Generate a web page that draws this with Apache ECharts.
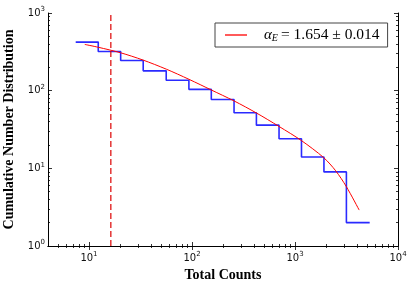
<!DOCTYPE html>
<html>
<head>
<meta charset="utf-8">
<script src="https://cdn.jsdelivr.net/npm/echarts@6/dist/echarts.min.js"></script>
<style>html,body{margin:0;padding:0;background:#fff}#c{width:415px;height:288px}</style>
</head>
<body>
<div id="c"></div>
<script>
// ---- data ----
const binEdges = [7.43, 12.3, 20.3, 33.6, 56.2, 93.3, 154, 256, 422, 700, 1156, 1910, 3155, 5310];
const cumCounts = [422, 320, 245, 180, 136, 104, 77, 52, 36, 24, 14, 9, 2];
const fitX = [9.1, 12.2, 20.2, 33.4, 56.4, 93.5, 154, 256, 422, 700, 1153, 1902, 2483, 3155, 4198];
const fitY = [394, 363, 308, 248, 189, 140, 102, 73.8, 51.6, 34.6, 22.8, 13.7, 9.3, 5.8, 2.9];
const threshold = 16.3;
const xRange = [4, 10000];
const yRange = [1, 1000];
const xMajorExp = [1, 2, 3, 4];
const yMajorExp = [0, 1, 2, 3];
const fitLabel = 'αE = 1.654 ± 0.014';

const L = Math.log10;
function minors(lo, hi) {
  const out = [];
  for (let e = Math.floor(L(lo)); e <= Math.ceil(L(hi)); e++) {
    for (let k = 2; k <= 9; k++) {
      const v = k * Math.pow(10, e);
      if (v > lo && v < hi) out.push(L(v));
    }
  }
  return out;
}
const xMin = L(xRange[0]), xMax = L(xRange[1]);
const yMin = L(yRange[0]), yMax = L(yRange[1]);

const stepData = cumCounts.map((v, i) => [L(binEdges[i]), L(v)]);
stepData.push([L(binEdges[binEdges.length - 1]), L(cumCounts[cumCounts.length - 1])]);
const fitData = fitX.map((x, i) => [L(x), L(fitY[i])]);

const labelFont = { fontFamily: 'DejaVu Sans', fontSize: 10, color: '#111',
  rich: { s: { fontFamily: 'DejaVu Sans', fontSize: 7, color: '#111', padding: [0, 0, 7, 0] } } };
const fmt = v => '10{s|' + Math.round(v) + '}';
const lineSt = { show: true, lineStyle: { color: '#000', width: 1 } };

function axis(kind, pos, major, withLabel, minV, maxV, extra) {
  const a = {
    type: 'value', position: pos, min: minV, max: maxV,
    splitLine: { show: false },
    axisLine: major ? lineSt : { show: false },
    axisTick: { show: true, inside: true, length: major ? 4 : 2,
      lineStyle: { color: '#000', width: 0.8 },
      customValues: major ? (kind === 'x' ? xMajorExp : yMajorExp) : (kind === 'x' ? minors(xRange[0], xRange[1]) : minors(yRange[0], yRange[1])) },
    axisLabel: withLabel ? Object.assign({ show: true, formatter: fmt,
      customValues: kind === 'x' ? xMajorExp : yMajorExp }, labelFont) : { show: false }
  };
  return Object.assign(a, extra || {});
}

const nameStyle = { fontFamily: 'Liberation Serif', fontWeight: 'bold', fontSize: 14, color: '#000' };

const option = {
  animation: false,
  grid: { left: 48, right: 17, top: 13, bottom: 42, containLabel: false, outerBoundsMode: 'none' },
  xAxis: [
    axis('x', 'bottom', true, true, xMin, xMax, { name: 'Total Counts', nameLocation: 'middle', nameGap: 20, nameTextStyle: nameStyle, axisLabel: Object.assign({ show: true, formatter: fmt, customValues: xMajorExp, margin: 5 }, labelFont) }),
    axis('x', 'bottom', false, false, xMin, xMax),
    axis('x', 'top', true, false, xMin, xMax),
    axis('x', 'top', false, false, xMin, xMax)
  ],
  yAxis: [
    axis('y', 'left', true, true, yMin, yMax, { name: 'Cumulative Number Distribution', nameLocation: 'middle', nameGap: 32, nameTextStyle: nameStyle, axisLabel: Object.assign({ show: true, formatter: fmt, customValues: yMajorExp, margin: 3 }, labelFont) }),
    axis('y', 'left', false, false, yMin, yMax),
    axis('y', 'right', true, false, yMin, yMax),
    axis('y', 'right', false, false, yMin, yMax)
  ],
  legend: {
    data: [{ name: fitLabel, icon: 'rect' }], left: 215, top: 23, padding: [4, 8, 4, 10],
    itemWidth: 22, itemHeight: 1.3,
    borderColor: '#444', borderWidth: 1, borderRadius: 0,
    formatter: () => '{a|α}{e|E}{t|= 1.654 ± 0.014}',
    textStyle: {
      rich: {
        a: { fontFamily: 'Liberation Serif', fontStyle: 'italic', fontSize: 15, color: '#000', padding: [0, 0, 0, 12] },
        e: { fontFamily: 'Liberation Serif', fontStyle: 'italic', fontSize: 10, color: '#000', padding: [6, 3, 0, 0] },
        t: { fontFamily: 'Liberation Serif', fontSize: 15.5, color: '#000' }
      }
    }
  },
  series: [
    { type: 'line', name: 'steps', data: stepData, step: 'end', symbol: 'none',
      lineStyle: { color: '#2a2aff', width: 1.6 }, itemStyle: { color: '#2a2aff' }, z: 2 },
    { type: 'line', name: fitLabel, data: fitData, smooth: 0.3, symbol: 'none',
      lineStyle: { color: '#ff0000', width: 1 }, itemStyle: { color: '#ff0000' }, z: 3 },
    { type: 'line', name: 'threshold', data: [[L(threshold), yMin], [L(threshold), yMax]], symbol: 'none',
      lineStyle: { color: '#dd0000', width: 1.2, type: [6, 3] }, z: 3 }
  ]
};
echarts.init(document.getElementById('c'), null, { renderer: 'canvas' }).setOption(option);
</script>
</body>
</html>
